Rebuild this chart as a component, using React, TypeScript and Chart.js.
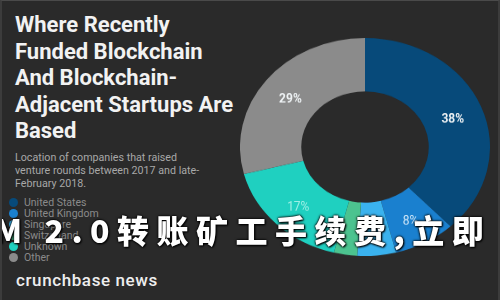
import React, { useEffect, useRef } from "react";
import { Chart, registerables } from "chart.js";

Chart.register(...registerables);

const countries = ["United States", "United Kingdom", "Singapore", "Switzerland", "Unknown", "Other"];
const shares = [38, 8, 5, 3, 17, 29];
const sliceColors = ["#074a7a", "#1a80cf", "#3ab2ee", "#4cc38f", "#1fd0c0", "#8b8b8b"];
const shownLabels = ["38%", "8%", "", "", "17%", "29%"];

const titleLines = ["Where Recently", "Funded Blockchain", "And Blockchain-", "Adjacent Startups Are", "Based"];
const subtitleLines = ["Location of companies that raised", "venture rounds between 2017 and late-", "February 2018."];
const overlayText = "M 2.0转账矿工手续费,立即";

const SQUASH = 0.872;

const labelPlugin = {
  id: "sliceLabels",
  afterDatasetsDraw(chart: any) {
    const ctx = chart.ctx;
    const meta = chart.getDatasetMeta(0);
    meta.data.forEach((arc: any, i: number) => {
      const txt = shownLabels[i];
      if (!txt) return;
      const p = arc.tooltipPosition();
      ctx.save();
      ctx.translate(p.x, p.y + 3);
      ctx.scale(1, 1 / SQUASH);
      const bold = i === 0 || i === 5;
      ctx.font = (bold ? "bold " : "") + "12px Roboto, 'DejaVu Sans', sans-serif";
      ctx.fillStyle = i === 4 ? "#9ff0e6" : i === 1 ? "#cfe6f8" : "#eef2f4";
      ctx.textAlign = "center";
      ctx.textBaseline = "middle";
      ctx.fillText(txt, 0, 0);
      ctx.restore();
    });
  },
};

function Doughnut() {
  const ref = useRef<HTMLCanvasElement | null>(null);
  useEffect(() => {
    if (!ref.current) return;
    const chart = new Chart(ref.current, {
      type: "doughnut",
      data: {
        labels: countries,
        datasets: [
          {
            data: shares,
            backgroundColor: sliceColors,
            borderWidth: 0,
          },
        ],
      },
      options: {
        animation: false,
        responsive: false,
        maintainAspectRatio: false,
        cutout: "51%",
        layout: { padding: 0 },
        plugins: { legend: { display: false }, tooltip: { enabled: false } },
      },
      plugins: [labelPlugin],
    });
    return () => chart.destroy();
  }, []);
  return (
    <div
      style={{
        position: "absolute",
        left: 238,
        top: 37,
        width: 250,
        height: 250,
        transform: `scaleY(${SQUASH})`,
        transformOrigin: "top left",
      }}
    >
      <canvas ref={ref} width={250} height={250} style={{ width: 250, height: 250, display: "block" }} />
    </div>
  );
}

export default function App() {
  return (
    <div
      style={{
        position: "fixed",
        left: 0,
        top: 0,
        width: 500,
        height: 300,
        overflow: "hidden",
        background: "#2a2a2a",
        boxSizing: "border-box",
        borderTop: "1px solid #4a4a4a",
        borderLeft: "2px solid #3c3c3c",
        borderRight: "2px solid #3c3c3c",
        fontFamily: "Roboto, 'Noto Sans', sans-serif",
      }}
    >
      <div style={{ position: "absolute", left: 13, top: 11 }}>
        {titleLines.map((t) => (
          <div key={t} style={{ color: "#f2f2f2", fontWeight: 700, fontSize: 22, lineHeight: "26.5px", whiteSpace: "nowrap" }}>
            {t}
          </div>
        ))}
      </div>
      <div style={{ position: "absolute", left: 13, top: 150 }}>
        {subtitleLines.map((t) => (
          <div key={t} style={{ color: "#a8a8a8", fontSize: 10.7, lineHeight: "13px", whiteSpace: "nowrap" }}>
            {t}
          </div>
        ))}
      </div>
      <div style={{ position: "absolute", left: 7, top: 196 }}>
        {countries.map((c, i) => (
          <div key={c} style={{ display: "flex", alignItems: "center", height: 11 }}>
            <span
              style={{
                display: "inline-block",
                width: 9,
                height: 9,
                borderRadius: "50%",
                background: sliceColors[i],
                marginRight: 6,
              }}
            />
            <span style={{ color: "#8a8a8a", fontSize: 10.5, whiteSpace: "nowrap" }}>{c}</span>
          </div>
        ))}
      </div>
      <div
        style={{
          position: "absolute",
          left: 14,
          top: 269,
          color: "#eeeeee",
          fontSize: 17,
          fontWeight: 500,
          letterSpacing: 0.6,
          whiteSpace: "nowrap",
        }}
      >
        crunchbase news
      </div>
      <Doughnut />
      <div
        style={{
          position: "absolute",
          left: -8,
          top: 211,
          color: "#ffffff",
          fontFamily: "'Noto Sans CJK SC', sans-serif",
          fontWeight: 900,
          fontSize: 32,
          lineHeight: "34px",
          letterSpacing: 7.5,
          whiteSpace: "nowrap",
          textShadow: "0 0 2px #000, 0 0 3px #000, 1px 1px 2px #000",
        }}
      >
        {overlayText}
      </div>
    </div>
  );
}
